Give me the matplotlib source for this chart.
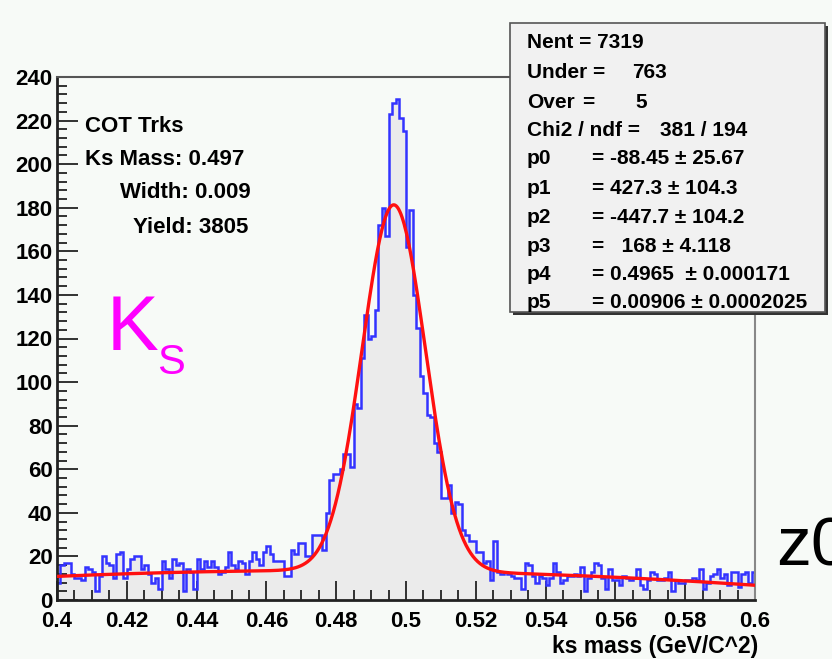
import numpy as np
import matplotlib
matplotlib.use("Agg")
import matplotlib.pyplot as plt
from matplotlib.patches import Rectangle

plt.rcParams['font.family'] = ['Liberation Sans', 'DejaVu Sans']

# histogram: 200 bins of 0.001 GeV between 0.4 and 0.6
x_lo, x_hi, n_bins = 0.4, 0.6, 200
counts_left = [8, 16, 17, 17, 12, 10, 10, 9, 15, 14, 13, 4, 11, 20, 17, 16,
               10, 21, 22, 10, 14, 19, 20, 20, 14, 16, 12, 8, 10, 5, 18, 14,
               10, 19, 16, 17, 4, 14, 13, 5, 19, 14, 18, 15, 18, 15, 12, 13,
               15, 22, 16, 14, 18, 17, 12, 18, 22, 19, 16, 22, 25, 21, 18, 18]
counts_peak = [18, 11, 11, 23, 21, 26, 26, 20, 20, 30, 30, 30, 23, 40, 55, 58,
               58, 60, 67, 67, 61, 90, 88, 111, 131, 120, 121, 133, 172, 180, 167, 223,
               228, 230, 221, 215, 162, 179, 140, 125, 103, 95, 85, 84, 72, 68, 47, 47,
               53, 40, 45, 44, 32, 30, 27, 27, 22, 22, 17, 18, 9, 27, 13, 12,
               13, 12]
counts_right = [11, 10, 10, 5, 17, 16, 11, 8, 11, 10, 7, 10, 17, 13, 8, 9,
                11, 11, 12, 11, 15, 4, 10, 13, 17, 16, 10, 5, 14, 9, 9, 7,
                11, 10, 9, 10, 14, 7, 5, 9, 13, 12, 9, 9, 10, 13, 4, 9,
                8, 8, 9, 9, 10, 9, 14, 5, 8, 11, 12, 14, 10, 12, 7, 13,
                13, 6, 12, 13, 8, 13]
counts = np.array(counts_left + counts_peak + counts_right)

# fit: pol2 + gaus, parameters as printed in the stats box
fit_par = [-88.45, 427.3, -447.7, 168.0, 0.4965, 0.00906]
fit_err = ["25.67", "104.3", "104.2", "4.118", "0.000171", "0.0002025"]
fit_val = ["-88.45", "427.3", "-447.7", "  168", "0.4965 ", "0.00906"]

W, H = 832, 659
fig = plt.figure(figsize=(W / 100, H / 100), dpi=100)
bg = '#f7faf7'
fig.patch.set_facecolor(bg)

def fx(x):
    return x / W

def fy(y):
    return 1 - y / H

ax = fig.add_axes([fx(57), fy(600), fx(755) - fx(57), fy(77) - fy(600)])
ax.set_facecolor(bg)

edges = np.linspace(x_lo, x_hi, n_bins + 1)
ax.stairs(counts, edges, fill=True, color='#ebebeb', zorder=1)
ax.stairs(counts, edges, color='#3333ff', lw=1.8, baseline=None, zorder=2)

xf = np.linspace(x_lo, x_hi, 600)
p0, p1, p2, p3, p4, p5 = fit_par
yf = p0 + p1 * xf + p2 * xf**2 + p3 * np.exp(-0.5 * ((xf - p4) / p5) ** 2)
ax.plot(xf, yf, color='#ff1010', lw=2.4, zorder=3)

ax.set_xlim(x_lo, x_hi)
ax.set_ylim(0, 240)
ax.set_xticks(np.arange(0.4, 0.6001, 0.02))
ax.set_xticklabels(['0.4', '0.42', '0.44', '0.46', '0.48', '0.5', '0.52',
                    '0.54', '0.56', '0.58', '0.6'])
ax.set_xticks(np.arange(0.4, 0.6001, 0.005), minor=True)
ax.set_yticks(np.arange(0, 241, 20))
ax.set_yticks(np.arange(0, 241, 4), minor=True)
ax.tick_params(axis='both', which='both', direction='in', top=False, right=False,
               labelsize=16, width=1.3, color='#222222')
ax.tick_params(axis='x', which='major', length=14, pad=8)
ax.tick_params(axis='x', which='minor', length=7)
ax.tick_params(axis='y', which='major', length=15, pad=3)
ax.tick_params(axis='y', which='minor', length=7)
for lab in ax.get_xticklabels() + ax.get_yticklabels():
    lab.set_fontweight('bold')
ax.spines['left'].set_linewidth(2)
ax.spines['bottom'].set_linewidth(2)
ax.spines['left'].set_color('#222222')
ax.spines['bottom'].set_color('#222222')
ax.spines['top'].set_color('#555555')
ax.spines['right'].set_color('#888888')
ax.spines['top'].set_linewidth(1.5)
ax.spines['right'].set_linewidth(1.5)

fig.text(fx(758), fy(647), 'ks mass (GeV/C^2)', ha='right', va='center',
         fontsize=16.5, fontweight='bold')

# left annotations
lfs = 16
fig.text(fx(85), fy(127), 'COT Trks', fontsize=lfs, fontweight='bold', va='center')
fig.text(fx(85), fy(160), 'Ks Mass: 0.497', fontsize=lfs, fontweight='bold', va='center')
fig.text(fx(120), fy(193), 'Width: 0.009', fontsize=lfs, fontweight='bold', va='center')
fig.text(fx(133), fy(227), 'Yield: 3805', fontsize=lfs, fontweight='bold', va='center')

fig.text(fx(107), fy(330), 'K', fontsize=56, color='#ff00ff', va='center')
fig.text(fx(157), fy(363), 'S', fontsize=30, color='#ff00ff', va='center')

fig.text(fx(776), fy(548), 'z0', fontsize=50, color='black', va='center')

# stats box
fig.patches.append(Rectangle((fx(513), fy(315)), fx(828) - fx(513), fy(26) - fy(315),
                             transform=fig.transFigure, facecolor='#333333',
                             edgecolor='none', zorder=5))
fig.patches.append(Rectangle((fx(510), fy(312)), fx(825) - fx(510), fy(23) - fy(312),
                             transform=fig.transFigure, facecolor='#f1f1f1',
                             edgecolor='#555555', lw=1.2, zorder=6))

sfs = 15
row_y = [43, 73, 102, 131, 159, 188, 217, 246, 275, 303]
fig.text(fx(527), fy(row_y[0]), 'Nent = 7319', fontsize=sfs, fontweight='bold',
         va='center', zorder=7)
fig.text(fx(527), fy(row_y[1]), 'Under =', fontsize=sfs, fontweight='bold',
         va='center', zorder=7)
fig.text(fx(632), fy(row_y[1]), '763', fontsize=sfs, fontweight='bold',
         va='center', zorder=7)
fig.text(fx(527), fy(row_y[2]), 'Over', fontsize=sfs, fontweight='bold',
         va='center', zorder=7)
fig.text(fx(582), fy(row_y[2]), '=', fontsize=sfs, fontweight='bold',
         va='center', zorder=7)
fig.text(fx(635), fy(row_y[2]), '5', fontsize=sfs, fontweight='bold',
         va='center', zorder=7)
fig.text(fx(527), fy(row_y[3]), 'Chi2 / ndf =', fontsize=sfs, fontweight='bold',
         va='center', zorder=7)
fig.text(fx(660), fy(row_y[3]), '381 / 194', fontsize=sfs, fontweight='bold',
         va='center', zorder=7)
for i in range(6):
    yy = fy(row_y[4 + i])
    fig.text(fx(527), yy, 'p%d' % i, fontsize=sfs, fontweight='bold', va='center', zorder=7)
    fig.text(fx(592), yy, '= %s \u00b1 %s' % (fit_val[i], fit_err[i]), fontsize=sfs,
             fontweight='bold', va='center', zorder=7)

fig.savefig('out.png', dpi=100, facecolor=bg)
